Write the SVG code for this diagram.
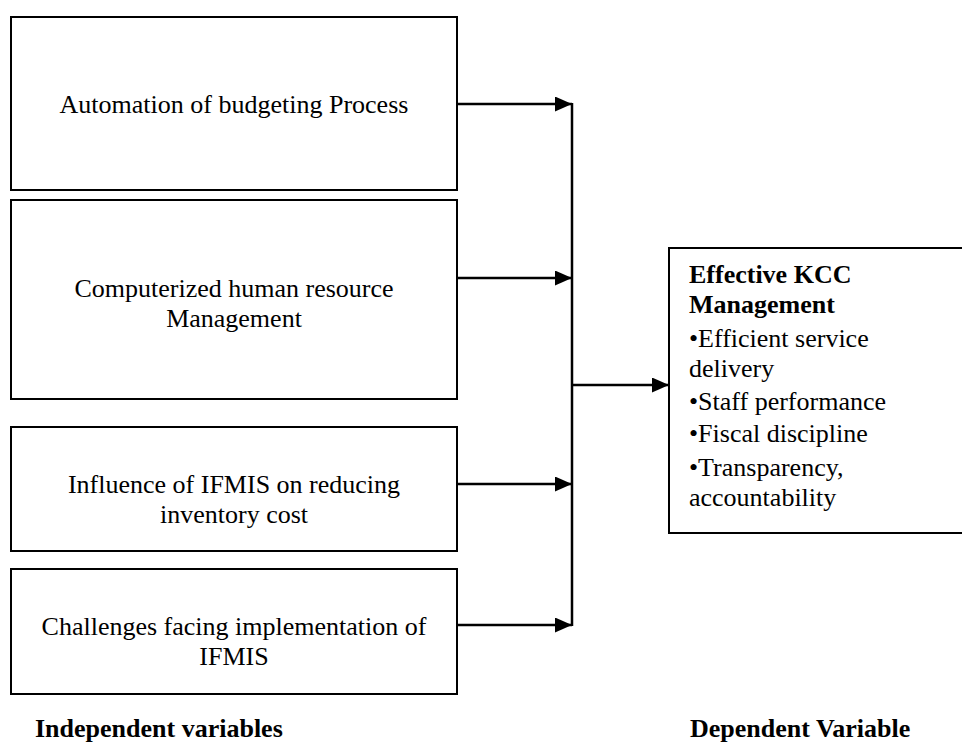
<svg xmlns="http://www.w3.org/2000/svg" width="962" height="742" viewBox="0 0 962 742">
<style>
.box{fill:#fff;stroke:#000;stroke-width:2}
.t{font-family:"Liberation Serif","Times New Roman",serif;font-size:26px;fill:#000}
.c{text-anchor:middle}
.b{font-weight:bold}
.ln{stroke:#000;stroke-width:2.5;fill:none}
</style>
<defs>
<marker id="ah" markerUnits="userSpaceOnUse" markerWidth="17" markerHeight="15" refX="17" refY="7.5" orient="auto">
<path d="M0,0 L17,7.5 L0,15 z" fill="#000"/>
</marker>
</defs>
<rect width="962" height="742" fill="#fff"/>
<g id="n1">
<rect class="box" x="11" y="17" width="446" height="173"/>
<text class="t c" x="234" y="113">Automation of budgeting Process</text>
</g>
<g id="n2">
<rect class="box" x="11" y="200" width="446" height="199"/>
<text class="t c" x="234" y="297">Computerized human resource</text>
<text class="t c" x="234" y="327">Management</text>
</g>
<g id="n3">
<rect class="box" x="11" y="427" width="446" height="124"/>
<text class="t c" x="234" y="493">Influence of IFMIS on reducing</text>
<text class="t c" x="234" y="523">inventory cost</text>
</g>
<g id="n4">
<rect class="box" x="11" y="569" width="446" height="125"/>
<text class="t c" x="234" y="635">Challenges facing implementation of</text>
<text class="t c" x="234" y="665">IFMIS</text>
</g>
<g id="n5">
<rect class="box" x="669" y="248" width="310" height="285"/>
<text class="t b" x="689" y="283">Effective KCC</text>
<text class="t b" x="689" y="313">Management</text>
<text class="t" x="689" y="347">•Efficient service</text>
<text class="t" x="689" y="377">delivery</text>
<text class="t" x="689" y="410">•Staff performance</text>
<text class="t" x="689" y="442">•Fiscal discipline</text>
<text class="t" x="689" y="476">•Transparency,</text>
<text class="t" x="689" y="506">accountability</text>
</g>
<g id="labels">
<text class="t b" x="35" y="737">Independent variables</text>
<text class="t b" x="690" y="737">Dependent Variable</text>
</g>
<g id="connectors">
<line class="ln" x1="457" y1="104" x2="572" y2="104" marker-end="url(#ah)"/>
<line class="ln" x1="457" y1="278" x2="572" y2="278" marker-end="url(#ah)"/>
<line class="ln" x1="457" y1="484" x2="572" y2="484" marker-end="url(#ah)"/>
<line class="ln" x1="457" y1="625" x2="572" y2="625" marker-end="url(#ah)"/>
<line class="ln" x1="572" y1="103" x2="572" y2="626"/>
<line class="ln" x1="572" y1="385" x2="669" y2="385" marker-end="url(#ah)"/>
</g>
</svg>
